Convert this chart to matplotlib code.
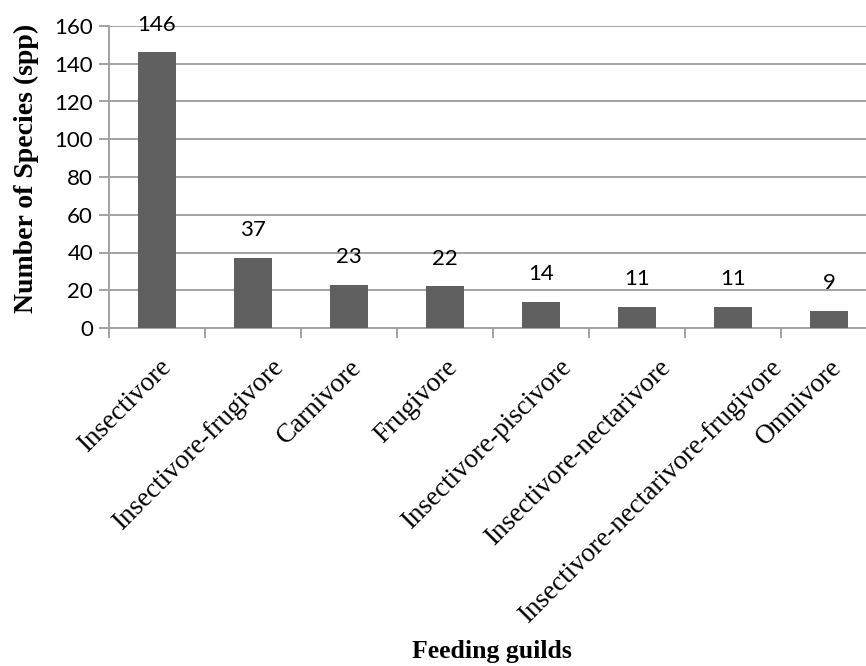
import matplotlib
matplotlib.use("Agg")
import matplotlib.pyplot as plt
import numpy as np
from matplotlib.transforms import ScaledTranslation
from matplotlib.textpath import TextPath
from matplotlib.font_manager import FontProperties

# Feeding guilds and number of species in each
guilds = [
    "Insectivore",
    "Insectivore-frugivore",
    "Carnivore",
    "Frugivore",
    "Insectivore-piscivore",
    "Insectivore-nectarivore",
    "Insectivore-nectarivore-frugivore",
    "Omnivore",
]
species = [146, 37, 23, 22, 14, 11, 11, 9]
y_ticks = [0, 20, 40, 60, 80, 100, 120, 140, 160]

DPI = 100
W, H = 866, 666
fig = plt.figure(figsize=(W / DPI, H / DPI), dpi=DPI)
fig.patch.set_facecolor("white")

# plot area (extends a little past the right edge, as in the source figure)
left, right, top, bottom = 109, 877, 26, 328
ax = fig.add_axes([left / W, 1 - bottom / H, (right - left) / W, (bottom - top) / H])

grid_col = "#a3a3a3"
bar_col = "#606060"
sans = "Lato"
serif = "Liberation Serif"

x = np.arange(len(guilds))
ax.bar(x, species, width=0.4, color=bar_col, zorder=3)

ax.set_xlim(-0.5, len(guilds) - 0.5)
ax.set_ylim(y_ticks[0], y_ticks[-1])
ax.set_yticks(y_ticks)
ax.set_yticklabels([str(t) for t in y_ticks], fontsize=16, family=sans, color="black")
ax.yaxis.grid(True, color=grid_col, linewidth=1.4, zorder=0)
ax.set_axisbelow(True)

# category boundary ticks on the x axis
ax.set_xticks(np.arange(-0.5, len(guilds) + 0.5, 1.0))
ax.set_xticklabels([])
ax.tick_params(axis="both", direction="out", length=7.5, width=1.4, color=grid_col)
ax.tick_params(axis="y", pad=4)

for s in ("top", "right"):
    ax.spines[s].set_visible(False)
for s in ("left", "bottom"):
    ax.spines[s].set_color(grid_col)
    ax.spines[s].set_linewidth(1.4)

# value labels above bars
for xi, v in zip(x, species):
    ax.annotate(str(v), (xi, v), xytext=(0, 20), textcoords="offset points",
                ha="center", va="center", fontsize=16, family=sans, color="black")

# rotated category labels; longer labels sit further to the right
fp = FontProperties(family=serif, size=19.5)
for xi, lab in zip(x, guilds):
    w_px = TextPath((0, 0), lab, prop=fp).get_extents().width * DPI / 72
    dx = -15 + 0.144 * w_px
    tr = ax.get_xaxis_transform() + ScaledTranslation(dx / DPI, -27 / DPI, fig.dpi_scale_trans)
    ax.text(xi, 0, lab, transform=tr, rotation=45, rotation_mode="anchor",
            ha="right", va="top", fontproperties=fp, color="black")

fig.text(26 / W, 1 - 168 / H, "Number of Species (spp)", rotation=90,
         ha="center", va="center", fontsize=20, family=serif, fontweight="bold")
fig.text(492 / W, 1 - 658 / H, "Feeding guilds", ha="center", va="baseline",
         fontsize=18.5, family=serif, fontweight="bold")

fig.savefig("out.png", dpi=DPI)
